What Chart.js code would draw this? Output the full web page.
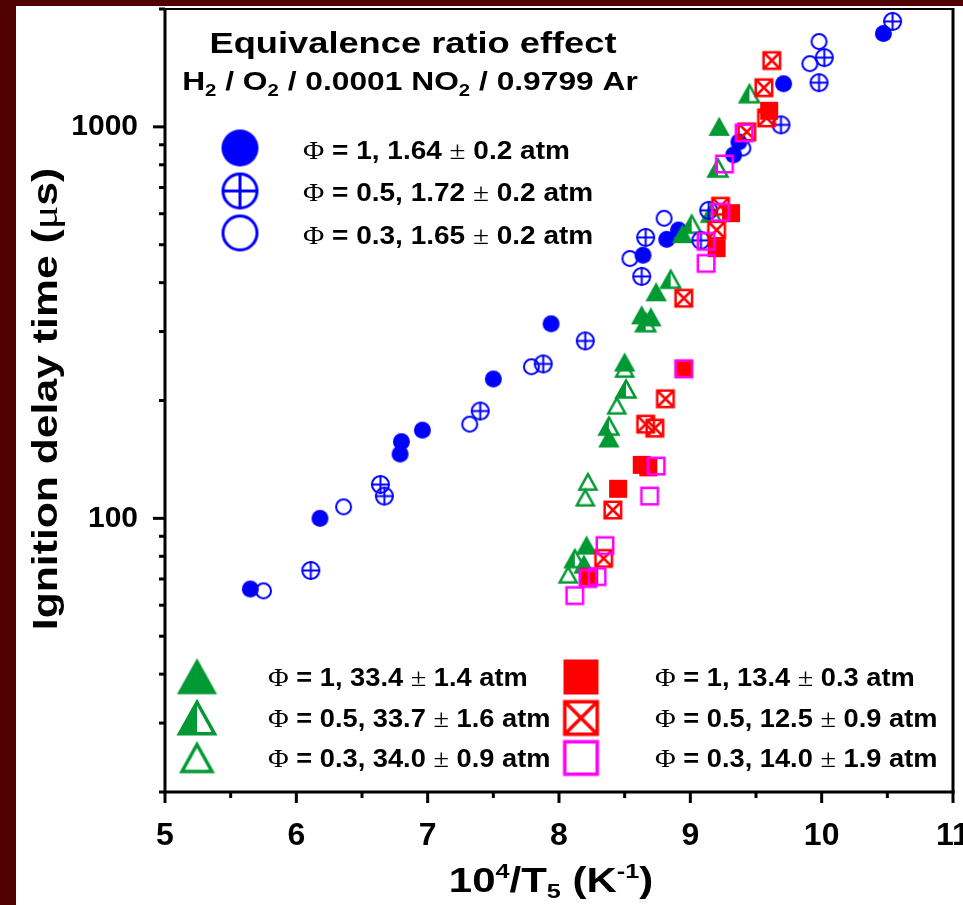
<!DOCTYPE html>
<html>
<head>
<meta charset="utf-8">
<script src="https://cdn.jsdelivr.net/npm/chart.js@4.4.1/dist/chart.umd.min.js"></script>
<style>
  html, body { margin: 0; padding: 0; background: #500000; overflow: hidden; }
  #wrap { position: absolute; left: 16px; top: 6px; width: 950px; height: 899px; background: #fff; }
</style>
</head>
<body>
<div id="wrap"><canvas id="chart" width="950" height="899"></canvas></div>
<script>
// 10^4/T5 (x) and ignition delay time in us (y)
const phi1LowX  = [5.65, 6.18, 6.79, 6.80, 6.96, 7.50, 7.94, 8.64, 8.82, 8.91, 9.33, 9.37, 9.71, 10.47];
const phi1LowY  = [66, 100, 146, 157, 168, 227, 314, 470, 516, 545, 848, 915, 1289, 1731];
const phi05LowX = [6.11, 6.64, 6.67, 7.40, 7.88, 8.20, 8.63, 8.66, 9.08, 9.14, 9.69, 9.98, 10.02, 10.54];
const phi05LowY = [73.6, 122, 114, 188, 248, 284, 415, 522, 513, 612, 1012, 1297, 1503, 1859];
const phi03LowX = [5.75, 6.36, 7.32, 7.79, 8.54, 8.80, 9.40, 9.91, 9.98];
const phi03LowY = [65.3, 107, 174, 244, 461, 584, 883, 1450, 1652];

const phi1HighX  = [9.22, 8.94, 8.74, 8.63, 8.70, 8.50, 8.38, 8.21, 8.19];
const phi1HighY  = [1000, 532, 378, 330, 326, 250, 160, 85.2, 76.2];
const phi05HighX = [9.45, 9.21, 9.01, 9.16, 8.85, 8.66, 8.51, 8.38, 8.12];
const phi05HighY = [1215, 785, 564, 602, 408, 316, 214, 172, 78.9];
const phi03HighX = [8.50, 8.44, 8.22, 8.20, 8.07];
const phi03HighY = [241, 194, 124, 113, 71.8];

const phi1MidX  = [9.60, 9.31, 9.20, 8.95, 8.63, 8.68, 8.45, 8.23];
const phi1MidY  = [1099, 602, 490, 241, 137, 135, 119, 71];
const phi05MidX = [9.62, 9.56, 9.58, 9.43, 9.23, 9.20, 8.95, 8.81, 8.66, 8.73, 8.41, 8.34];
const phi05MidY = [1477, 1259, 1054, 971, 627, 545, 365, 202, 174, 170, 105, 79];
const phi03MidX = [9.41, 9.26, 9.23, 9.12, 9.12, 8.95, 8.74, 8.69, 8.35, 8.29, 8.22, 8.12];
const phi03MidY = [965, 804, 605, 510, 448, 241, 136, 114, 85.2, 71, 70.2, 63.5];

const yTickValues = [20, 30, 40, 50, 60, 70, 80, 90, 100, 200, 300, 400, 500, 600, 700, 800, 900, 1000, 2000];
const yLabelValues = [100, 1000];

const topLegend = [
  ['1', '1.64', '0.2'],
  ['0.5', '1.72', '0.2'],
  ['0.3', '1.65', '0.2']
];
const triLegend = [
  ['1', '33.4', '1.4'],
  ['0.5', '33.7', '1.6'],
  ['0.3', '34.0', '0.9']
];
const sqLegend = [
  ['1', '13.4', '0.3'],
  ['0.5', '12.5', '0.9'],
  ['0.3', '14.0', '1.9']
];

const SANS = '"Liberation Sans", Arial, sans-serif';
const SERIF = '"Liberation Serif", "Times New Roman", serif';
const BLUE = '#0000ff', GREEN = '#009933', RED = '#ff0000', MAGENTA = '#ff00ff';

// marker images used as pointStyle
function marker(kind, size, color, lw) {
  const d = Math.ceil(size + lw * 2 + 4);
  const c = document.createElement('canvas');
  c.width = d; c.height = d;
  const g = c.getContext('2d');
  const m = d / 2, r = size / 2;
  g.lineWidth = lw; g.strokeStyle = color; g.fillStyle = color;
  g.lineJoin = 'miter';
  const triPath = () => {
    const h = size * 0.9;
    g.beginPath();
    g.moveTo(m, m - h / 2);
    g.lineTo(m + r, m + h / 2);
    g.lineTo(m - r, m + h / 2);
    g.closePath();
  };
  if (kind === 'dot') {
    g.beginPath(); g.arc(m, m, r, 0, Math.PI * 2); g.fill();
  } else if (kind === 'ring' || kind === 'ringCross') {
    g.beginPath(); g.arc(m, m, r - lw / 2, 0, Math.PI * 2); g.stroke();
    if (kind === 'ringCross') {
      g.beginPath();
      g.moveTo(m - r, m); g.lineTo(m + r, m);
      g.moveTo(m, m - r); g.lineTo(m, m + r);
      g.stroke();
    }
  } else if (kind === 'tri') {
    triPath(); g.fill(); g.stroke();
  } else if (kind === 'triHalf') {
    const h = size * 0.9;
    g.beginPath();
    g.moveTo(m, m - h / 2);
    g.lineTo(m, m + h / 2);
    g.lineTo(m - r, m + h / 2);
    g.closePath();
    g.fill();
    triPath(); g.stroke();
  } else if (kind === 'triOpen') {
    triPath(); g.stroke();
  } else if (kind === 'sq') {
    g.fillRect(m - r, m - r, size, size);
  } else if (kind === 'sqX' || kind === 'sqOpen') {
    const s = r - lw / 2;
    g.strokeRect(m - s, m - s, s * 2, s * 2);
    if (kind === 'sqX') {
      g.beginPath();
      g.moveTo(m - s, m - s); g.lineTo(m + s, m + s);
      g.moveTo(m + s, m - s); g.lineTo(m - s, m + s);
      g.stroke();
    }
  }
  return c;
}

const styles = {
  dot: marker('dot', 17, BLUE, 2),
  ringCross: marker('ringCross', 19, BLUE, 2),
  ring: marker('ring', 17, BLUE, 2),
  tri: marker('tri', 18, GREEN, 2),
  triHalf: marker('triHalf', 19, GREEN, 2.5),
  triOpen: marker('triOpen', 17, GREEN, 2.5),
  sq: marker('sq', 18, RED, 2),
  sqX: marker('sqX', 19, RED, 2.5),
  sqOpen: marker('sqOpen', 19, MAGENTA, 2.5)
};
const legendStyles = {
  dot: marker('dot', 37, BLUE, 3),
  ringCross: marker('ringCross', 37, BLUE, 3),
  ring: marker('ring', 37, BLUE, 3),
  tri: marker('tri', 35, GREEN, 3),
  triHalf: marker('triHalf', 35, GREEN, 3.5),
  triOpen: marker('triOpen', 30, GREEN, 3.5),
  sq: marker('sq', 35, RED, 3),
  sqX: marker('sqX', 36, RED, 3.5),
  sqOpen: marker('sqOpen', 36, MAGENTA, 3.5)
};

function series(label, xs, ys, style) {
  return {
    label: label,
    data: xs.map((x, i) => ({ x: x, y: ys[i] })),
    pointStyle: styles[style],
    pointRadius: 10,
    pointHoverRadius: 10,
    showLine: false
  };
}

// text with mixed fonts / sub- and superscripts, sx = horizontal stretch
function drawRich(ctx, parts, x, y, align, sx) {
  sx = sx || 1;
  let total = 0;
  parts.forEach(p => { ctx.font = p.f; p.w = ctx.measureText(p.t).width; total += p.w; });
  ctx.save();
  ctx.translate(x, y);
  ctx.scale(sx, 1);
  let cx = align === 'center' ? -total / 2 : 0;
  ctx.textBaseline = 'alphabetic';
  ctx.textAlign = 'left';
  parts.forEach(p => {
    ctx.font = p.f;
    ctx.fillText(p.t, cx, p.dy || 0);
    cx += p.w;
  });
  ctx.restore();
}

const B = (s) => `bold ${s}px ${SANS}`;
const R = (s) => `${s}px ${SERIF}`;

function legendLine(row) {
  return [
    { t: 'Φ', f: R(26) },
    { t: ` = ${row[0]}, ${row[1]} `, f: B(25) },
    { t: '±', f: R(26) },
    { t: ` ${row[2]} atm`, f: B(25) }
  ];
}

const decorPlugin = {
  id: 'decor',
  afterDraw(chart) {
    const ctx = chart.ctx;
    const { left, right, top, bottom } = chart.chartArea;
    const xs = chart.scales.x, ys = chart.scales.y;
    ctx.save();
    ctx.strokeStyle = '#000';
    ctx.fillStyle = '#000';
    // frame
    ctx.lineWidth = 2;
    ctx.beginPath(); ctx.moveTo(left, top); ctx.lineTo(right, top); ctx.stroke();
    ctx.lineWidth = 3;
    ctx.beginPath(); ctx.moveTo(right, top - 1); ctx.lineTo(right, bottom); ctx.stroke();
    ctx.beginPath(); ctx.moveTo(left, top - 1); ctx.lineTo(left, bottom + 1.5); ctx.stroke();
    ctx.beginPath(); ctx.moveTo(left - 1.5, bottom); ctx.lineTo(right + 1.5, bottom); ctx.stroke();
    // ticks
    ys.ticks.forEach(t => {
      const py = ys.getPixelForValue(t.value);
      const len = yLabelValues.includes(t.value) ? 12 : 6;
      ctx.beginPath(); ctx.moveTo(left, py); ctx.lineTo(left - len, py); ctx.stroke();
    });
    xs.ticks.forEach(t => {
      const px = xs.getPixelForValue(t.value);
      const len = Number.isInteger(t.value) ? 11 : 6;
      ctx.beginPath(); ctx.moveTo(px, bottom); ctx.lineTo(px, bottom + len); ctx.stroke();
    });

    // titles inside the plot
    drawRich(ctx, [{ t: 'Equivalence ratio effect', f: B(29) }], 397, 47, 'center', 1.25);
    drawRich(ctx, [
      { t: 'H', f: B(25) }, { t: '2', f: B(16), dy: 6 },
      { t: ' / O', f: B(25) }, { t: '2', f: B(16), dy: 6 },
      { t: ' / 0.0001 NO', f: B(25) }, { t: '2', f: B(16), dy: 6 },
      { t: ' / 0.9799 Ar', f: B(25) }
    ], 394, 84, 'center', 1.27);

    // legends
    const lg = (st, x, y) => ctx.drawImage(st, x - st.width / 2, y - st.height / 2);
    const topKinds = ['dot', 'ringCross', 'ring'];
    const topY = [142, 185, 227], topBase = [153, 195, 238];
    topLegend.forEach((row, i) => {
      lg(legendStyles[topKinds[i]], 224, topY[i]);
      drawRich(ctx, legendLine(row), 287, topBase[i], 'left', 1.12);
    });
    const triKinds = ['tri', 'triHalf', 'triOpen'];
    const sqKinds = ['sq', 'sqX', 'sqOpen'];
    const botY = [671, 712, 752], botBase = [680, 721, 761];
    triLegend.forEach((row, i) => {
      lg(legendStyles[triKinds[i]], 181, botY[i]);
      drawRich(ctx, legendLine(row), 252, botBase[i], 'left', 1.09);
    });
    sqLegend.forEach((row, i) => {
      lg(legendStyles[sqKinds[i]], 565, botY[i]);
      drawRich(ctx, legendLine(row), 639, botBase[i], 'left', 1.09);
    });

    // axis titles
    ctx.save();
    ctx.translate(41, 393);
    ctx.rotate(-Math.PI / 2);
    drawRich(ctx, [
      { t: 'Ignition delay time (', f: B(35) },
      { t: 'μ', f: R(36) },
      { t: 's)', f: B(35) }
    ], 0, 0, 'center', 1.22);
    ctx.restore();
    drawRich(ctx, [
      { t: '10', f: B(35) }, { t: '4', f: B(21), dy: -14 },
      { t: '/T', f: B(35) }, { t: '5', f: B(21), dy: 6 },
      { t: ' (K', f: B(35) }, { t: '-1', f: B(21), dy: -14 },
      { t: ')', f: B(35) }
    ], 535, 886, 'center', 1.2);
    ctx.restore();
  }
};

new Chart(document.getElementById('chart'), {
  type: 'scatter',
  data: {
    datasets: [
      series('Φ = 0.3, 14.0 atm', phi03MidX, phi03MidY, 'sqOpen'),
      series('Φ = 0.5, 12.5 atm', phi05MidX, phi05MidY, 'sqX'),
      series('Φ = 1, 13.4 atm', phi1MidX, phi1MidY, 'sq'),
      series('Φ = 0.5, 1.72 atm', phi05LowX, phi05LowY, 'ringCross'),
      series('Φ = 1, 33.4 atm', phi1HighX, phi1HighY, 'tri'),
      series('Φ = 0.5, 33.7 atm', phi05HighX, phi05HighY, 'triHalf'),
      series('Φ = 0.3, 34.0 atm', phi03HighX, phi03HighY, 'triOpen'),
      series('Φ = 1, 1.64 atm', phi1LowX, phi1LowY, 'dot'),
      series('Φ = 0.3, 1.65 atm', phi03LowX, phi03LowY, 'ring')
    ]
  },
  options: {
    responsive: false,
    animation: false,
    events: [],
    layout: { autoPadding: false, padding: { left: 0, top: 3, right: 13, bottom: 0 } },
    plugins: {
      legend: { display: false },
      tooltip: { enabled: false }
    },
    scales: {
      x: {
        type: 'linear',
        min: 5,
        max: 11,
        grid: { display: false, drawTicks: false, tickLength: 0 },
        border: { display: false },
        ticks: {
          stepSize: 0.5,
          autoSkip: false,
          maxRotation: 0,
          padding: 25,
          color: '#000',
          font: { family: SANS, size: 32, weight: 'bold' },
          callback: v => Number.isInteger(v) ? String(v) : ''
        },
        afterFit: s => { s.height = 113; s.paddingLeft = 0; s.paddingRight = 0; }
      },
      y: {
        type: 'logarithmic',
        min: 20,
        max: 2000,
        grid: { display: false, drawTicks: false, tickLength: 0 },
        border: { display: false },
        afterBuildTicks: s => {
          s.ticks = yTickValues.map(v => ({ value: v, major: yLabelValues.includes(v) }));
        },
        ticks: {
          autoSkip: false,
          padding: 27,
          color: '#000',
          font: { family: SANS, size: 30, weight: 'bold' },
          callback: v => yLabelValues.includes(v) ? String(v) : ''
        },
        afterFit: s => { s.width = 149; s.paddingTop = 0; s.paddingBottom = 0; }
      }
    }
  },
  plugins: [decorPlugin]
});
</script>
</body>
</html>
